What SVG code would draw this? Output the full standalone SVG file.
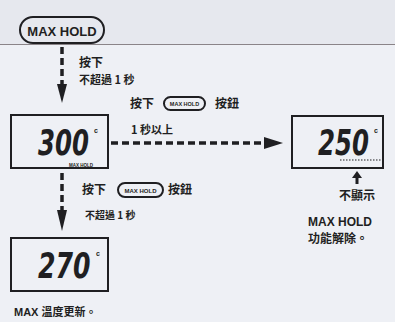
<svg xmlns="http://www.w3.org/2000/svg" width="395" height="322" viewBox="0 0 395 322">
<style>
.bg{fill:#eef0f5}
.ink{fill:#1f1f22}
.cn{font-family:"Noto Sans CJK TC","Noto Sans CJK SC",sans-serif;font-weight:bold;fill:#1f1f22}
.lat{font-family:"Liberation Sans",Arial,sans-serif;font-weight:bold;fill:#1f1f22}
.lcd{font-family:"DejaVu Sans","Liberation Sans",sans-serif;font-style:italic;font-weight:bold;font-size:36px;fill:#1f1f22}
.deg{font-family:"Liberation Sans",Arial,sans-serif;font-weight:bold;font-size:7px;fill:#1f1f22}
.box{fill:none;stroke:#1f1f22;stroke-width:2}
.pill{fill:none;stroke:#1f1f22;stroke-width:2}
.dash{fill:none;stroke:#1f1f22;stroke-width:3.5;stroke-dasharray:7 4}
</style>
<rect class="bg" x="0" y="0" width="395" height="322"/>
<rect x="0" y="0" width="395" height="44" fill="#e6e8ee"/>
<line x1="0" y1="44.5" x2="395" y2="44.5" stroke="#8a8488" stroke-width="1"/>

<g id="start">
<rect class="pill" x="20" y="17" width="84" height="26" rx="13"/>
<text class="lat" x="62" y="35.5" font-size="13" text-anchor="middle">MAX HOLD</text>
</g>

<g id="display300">
<rect class="box" x="11" y="115" width="97" height="53"/>
<text class="lcd" transform="translate(38,155) scale(0.68,1)">300</text>
<text class="deg" x="94" y="133">c</text>
<text class="lat" x="81" y="166.5" font-size="4.5" text-anchor="middle">MAX HOLD</text>
</g>

<g id="display250">
<rect class="box" x="292" y="116" width="91" height="52"/>
<text class="lcd" transform="translate(318,155) scale(0.68,1)">250</text>
<text class="deg" x="374" y="133">c</text>
<line x1="340" y1="160" x2="382" y2="160" stroke="#1f1f22" stroke-width="1.2" stroke-dasharray="1.5 1.5"/>
</g>

<g id="display270">
<rect class="box" x="11" y="238" width="97" height="53"/>
<text class="lcd" transform="translate(38,278) scale(0.7,1)">270</text>
<text class="deg" x="96" y="256">c</text>
</g>

<g id="connectors">
<line class="dash" x1="62" y1="47" x2="62" y2="86"/>
<path d="M57,84 L67,84 L62,103 z" class="ink"/>
<line class="dash" x1="111" y1="143" x2="266" y2="143"/>
<path d="M264,137 L283,143 L264,149 z" class="ink"/>
<line class="dash" x1="62" y1="173" x2="62" y2="212"/>
<path d="M57,210 L67,210 L62,231 z" class="ink"/>
<line x1="357" y1="177" x2="357" y2="184" stroke="#1f1f22" stroke-width="3"/>
<path d="M352,178 L362,178 L357,171 z" class="ink"/>
</g>

<g id="labels">
<text class="cn" x="79" y="67" font-size="12">按下</text>
<text class="cn" x="79" y="84" font-size="11">不超過 1 秒</text>
<text class="cn" x="130" y="108" font-size="12">按下</text>
<rect class="pill" x="164" y="97" width="41" height="13" rx="6.5"/>
<text class="lat" x="184.5" y="106" font-size="5.5" text-anchor="middle">MAX HOLD</text>
<text class="cn" x="215" y="108" font-size="12">按鈕</text>
<text class="cn" x="131" y="134" font-size="11">1 秒以上</text>
<text class="cn" x="82" y="194" font-size="12">按下</text>
<rect class="pill" x="118" y="183" width="45" height="14" rx="7"/>
<text class="lat" x="140.5" y="192.5" font-size="6" text-anchor="middle">MAX HOLD</text>
<text class="cn" x="168" y="194" font-size="12">按鈕</text>
<text class="cn" x="85" y="219" font-size="10">不超過 1 秒</text>
<text class="cn" x="357" y="200" font-size="12" text-anchor="middle">不顯示</text>
<text class="lat" x="308" y="226" font-size="12">MAX HOLD</text>
<text class="cn" x="308" y="243" font-size="12">功能解除。</text>
<text class="lat" x="14" y="316" font-size="11">MAX <tspan class="cn" font-size="11">溫度更新。</tspan></text>
</g>
</svg>
